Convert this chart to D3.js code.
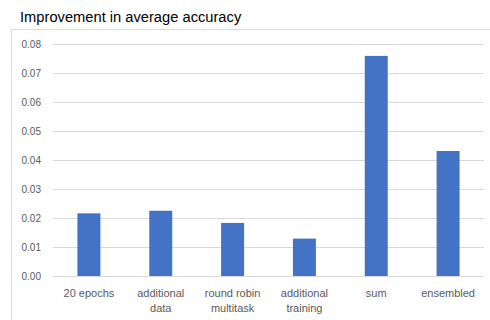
<!DOCTYPE html>
<html>
<head>
<meta charset="utf-8">
<script src="https://cdn.jsdelivr.net/npm/d3@7"></script>
<style>
  html, body { margin: 0; padding: 0; background: #fff; }
  svg { display: block; }
</style>
</head>
<body>
<svg id="chart" width="490" height="320"></svg>
<script>
// Categories (x-axis labels, split into lines) and their values
const categories = [
  ["20 epochs"],
  ["additional", "data"],
  ["round robin", "multitask"],
  ["additional", "training"],
  ["sum"],
  ["ensembled"]
];
const values = [0.0216, 0.0225, 0.0183, 0.0129, 0.0759, 0.0431];
const yTicks = [0, 0.01, 0.02, 0.03, 0.04, 0.05, 0.06, 0.07, 0.08];
const title = "Improvement in average accuracy";

const svg = d3.select("#chart");
const font = "'Liberation Sans', Arial, sans-serif";

// Chart frame (open at right and bottom)
svg.append("path")
  .attr("d", "M11.5,320 V29.5 H490")
  .attr("fill", "none")
  .attr("stroke", "#d9d9d9")
  .attr("stroke-width", 1);

// Title
svg.append("text")
  .attr("x", 20)
  .attr("y", 22)
  .attr("font-family", font)
  .attr("font-size", 14.7)
  .attr("fill", "#000")
  .text(title);

const plot = { left: 53, right: 484, top: 44, bottom: 276 };

const x = d3.scaleBand()
  .domain(d3.range(categories.length))
  .range([plot.left, plot.right])
  .paddingInner(0.68)
  .paddingOuter(0.34);

const y = d3.scaleLinear()
  .domain([0, 0.08])
  .range([plot.bottom, plot.top]);

// Gridlines
svg.append("g")
  .selectAll("line")
  .data(yTicks)
  .join("line")
  .attr("x1", plot.left)
  .attr("x2", plot.right)
  .attr("y1", d => Math.round(y(d)) + 0.5)
  .attr("y2", d => Math.round(y(d)) + 0.5)
  .attr("stroke", "#d9d9d9")
  .attr("stroke-width", 1);

// Y axis labels
const yAxis = d3.axisLeft(y)
  .tickValues(yTicks)
  .tickFormat(d3.format(".2f"))
  .tickSize(0)
  .tickPadding(12);

const yG = svg.append("g")
  .attr("transform", `translate(${plot.left},0)`)
  .call(yAxis);
yG.select(".domain").remove();
yG.selectAll("text")
  .attr("font-family", font)
  .attr("font-size", 10)
  .attr("fill", "#595959");

// Bars
svg.append("g")
  .selectAll("rect")
  .data(values)
  .join("rect")
  .attr("x", (d, i) => x(i))
  .attr("width", x.bandwidth())
  .attr("y", d => y(d))
  .attr("height", d => y(0) - y(d))
  .attr("fill", "#4472c4");

// X axis labels (multi-line)
const xAxis = d3.axisBottom(x)
  .tickSize(0)
  .tickFormat("");
const xG = svg.append("g")
  .attr("transform", `translate(0,${plot.bottom})`)
  .call(xAxis);
xG.select(".domain").remove();

xG.selectAll(".tick")
  .append("text")
  .attr("font-family", font)
  .attr("font-size", 11)
  .attr("fill", "#595959")
  .attr("text-anchor", "middle")
  .each(function(d) {
    const t = d3.select(this);
    categories[d].forEach((line, j) => {
      t.append("tspan")
        .attr("x", 0)
        .attr("y", 21 + j * 15)
        .text(line);
    });
  });
</script>
</body>
</html>
